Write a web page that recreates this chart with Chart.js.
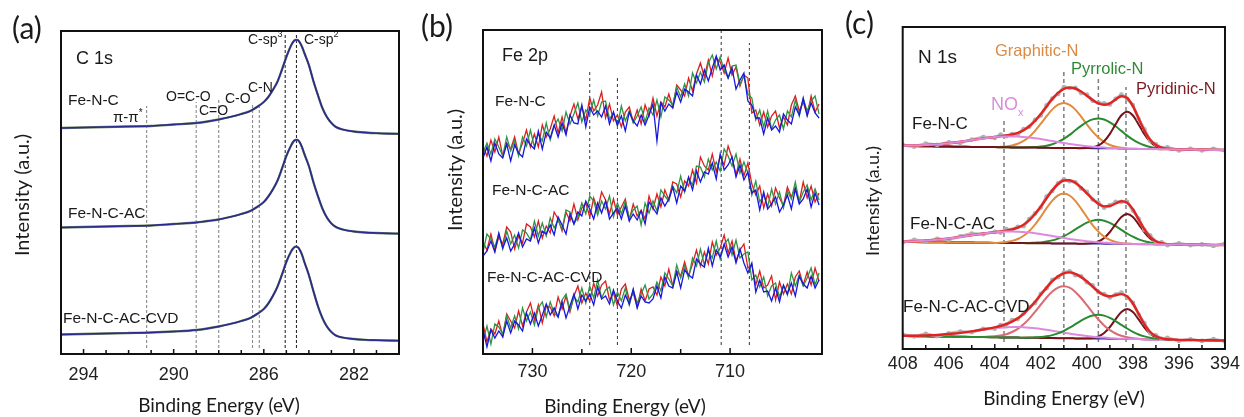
<!DOCTYPE html>
<html>
<head>
<meta charset="utf-8">
<script src="https://cdn.jsdelivr.net/npm/chart.js@4.4.1/dist/chart.umd.min.js"></script>
<style>
  html, body { margin: 0; padding: 0; background: #fff; }
  #wrap { position: relative; width: 1244px; height: 417px; overflow: hidden; background: #fff; }
  #wrap canvas { position: absolute; top: 0; }
</style>
</head>
<body>
<div id="wrap">
  <canvas id="panelA" width="410" height="417" style="left:0px;width:410px;height:417px"></canvas>
  <canvas id="panelB" width="410" height="417" style="left:420px;width:410px;height:417px"></canvas>
  <canvas id="panelC" width="414" height="417" style="left:830px;width:414px;height:417px"></canvas>
</div>
<script>
// ---------------- (a) C 1s ----------------
const c1sEnergy = [295.0, 294.0, 293.0, 292.0, 291.0, 290.0, 289.0, 288.5, 288.0, 287.5,
  287.0, 286.6, 286.3, 286.0, 285.8, 285.6, 285.4, 285.2, 285.0, 284.8,
  284.7, 284.6, 284.5, 284.4, 284.3, 284.2, 284.0, 283.8, 283.6, 283.4,
  283.2, 283.0, 282.8, 282.5, 282.0, 281.5, 281.0, 280.5, 280.0];
const c1sFeNC = [226, 226.5, 227, 227.5, 228, 229.5, 231, 232.5, 234.5, 237,
  240, 243, 247, 252, 257, 264, 272, 284, 297, 308,
  312, 314, 314, 311.5, 307, 301, 289, 273, 259, 246,
  237, 231, 227, 224.5, 222.5, 221.5, 220.8, 220.4, 220.2];
const c1sFeNCAC = [126.5, 127, 127.5, 128, 128.5, 130, 131.5, 133, 134.5, 137,
  140, 143, 147, 152, 157.5, 164.5, 173, 185, 198, 208,
  212, 214, 214, 211.5, 206.5, 200, 188, 172, 158, 145.5,
  136.5, 130.5, 127, 124.5, 122.5, 121.5, 121, 120.6, 120.4];
const c1sFeNCACCVD = [19.5, 20, 20.5, 21, 21.5, 22.5, 24, 25.5, 27.5, 30,
  33, 36, 40, 45, 50.5, 58, 67, 79, 92, 102,
  105.5, 107.3, 107, 104, 99, 92, 79, 63, 48, 36,
  27.5, 22, 18.5, 16.5, 15, 14.2, 13.8, 13.5, 13.3];
const c1sMarkerEnergy = [291.2, 289.0, 288.0, 286.5, 286.2, 285.05, 284.55];
const c1sMarkerTop = [248, 252, 254, 249, 249, 321, 321];
const c1sTickLabels = [294, 290, 286, 282];

// ---------------- (b) Fe 2p ----------------
const fe2pEnergy = [735.0, 734.6, 734.2, 733.8, 733.4, 733.0, 732.6, 732.2, 731.8, 731.4,
  731.0, 730.6, 730.2, 729.8, 729.4, 729.0, 728.6, 728.2, 727.8, 727.4,
  727.0, 726.6, 726.2, 725.8, 725.4, 725.0, 724.6, 724.2, 723.8, 723.4,
  723.0, 722.6, 722.2, 721.8, 721.4, 721.0, 720.6, 720.2, 719.8, 719.4,
  719.0, 718.6, 718.2, 717.8, 717.4, 717.0, 716.6, 716.2, 715.8, 715.4,
  715.0, 714.6, 714.2, 713.8, 713.4, 713.0, 712.6, 712.2, 711.8, 711.4,
  711.0, 710.6, 710.2, 709.8, 709.4, 709.0, 708.6, 708.2, 707.8, 707.4,
  707.0, 706.6, 706.2, 705.8, 705.4, 705.0, 704.6, 704.2, 703.8, 703.4,
  703.0, 702.6, 702.2, 701.8, 701.4, 701.0];
const fe2pFeNC_1 = [208,198,214,202,217,198,211,205,217,200, 211,224,207,220,207,229,217,225,238,221,
  237,221,238,250,235,247,234,256,243,249, 262,236,250,233,239,227,242,247,232,244,
  230,249,238,256,238,252,247,260,247,269, 264,258,276,263,280,291,277,294,278,296,
  292,281,296,279,287,268,279,276,241,244, 229,242,227,238,243,226,237,229,249,258,
  243,252,239,258,242,250];
const fe2pFeNC_2 = [201,211,200,215,207,198,217,203,213,198, 217,208,224,207,220,213,231,214,228,235,
  223,242,230,240,251,232,244,240,254,238, 252,253,235,241,228,248,233,243,231,238,
  247,232,246,239,254,237,257,254,249,267, 257,270,258,281,271,282,272,291,299,285,
  297,284,276,288,289,270,278,260,256,234, 244,227,243,225,234,239,225,243,237,254,
  238,255,243,253,258,240];
const fe2pFeNC_3 = [196,207,193,211,200,196,210,193,209,201, 197,215,209,205,223,205,222,216,229,217,
  231,219,239,231,230,249,227,247,239,243, 237,248,230,242,229,238,223,242,233,228,
  239,229,239,250,213,251,243,250,246,262, 252,265,262,258,279,270,284,273,286,298,
  284,289,276,286,265,274,281,253,249,236, 236,220,236,224,228,222,240,234,230,247,
  239,256,238,251,241,236];
const fe2pFeNCAC_1 = [112,104,120,103,117,110,127,122,105,118, 111,130,127,117,133,116,128,121,142,135,
  123,142,133,150,134,146,151,137,156,144, 162,154,140,155,139,147,155,134,150,138,
  144,135,158,145,160,147,164,154,172,170, 157,173,168,184,171,197,188,184,200,182,
  198,189,208,196,179,195,178,191,170,159, 168,146,160,148,166,156,148,167,157,166,
  152,172,156,168,152,161];
const fe2pFeNCAC_2 = [102,120,115,107,120,105,123,110,119,106, 124,121,114,133,118,131,118,136,126,134,
  125,144,142,130,137,151,140,158,153,139, 153,145,158,137,151,140,153,136,144,148,
  129,151,141,153,143,164,158,153,168,161, 178,162,176,169,188,187,177,195,184,192,
  183,205,198,188,200,181,192,181,159,173, 152,159,147,165,150,162,146,163,155,172,
  152,162,169,154,165,154];
const fe2pFeNCAC_3 = [98,103,113,102,121,106,116,103,110,121, 107,115,113,126,111,123,120,129,119,137,
  129,120,140,130,142,138,153,145,135,151, 141,153,135,141,146,135,148,133,140,134,
  143,130,152,146,140,156,148,155,167,151, 168,163,177,164,183,172,182,180,191,175,
  200,184,189,197,177,189,174,182,161,164, 144,162,145,150,157,142,149,159,145,165,
  150,155,165,147,161,149];
const fe2pFeNCACCVD_1 = [30,12,25,20,33,18,40,33,26,43, 28,42,51,34,49,31,48,47,38,57,
  45,58,42,58,68,51,61,53,71,58, 69,73,54,61,48,65,70,54,61,47,
  65,53,65,67,59,77,68,85,68,83, 78,92,78,90,104,88,102,90,112,99,
  106,119,101,113,93,104,110,86,89,69, 83,66,69,78,54,72,60,70,60,77,
  83,69,82,69,86,73];
const fe2pFeNCACCVD_2 = [13,28,10,30,27,20,38,26,38,25, 46,33,42,29,46,52,37,52,41,37,
  54,60,44,57,52,66,51,68,56,74, 56,64,67,49,62,53,66,49,64,51,
  60,69,55,60,72,63,81,75,68,89, 76,88,76,96,88,105,89,103,96,113,
  95,109,115,99,114,96,100,102,74,79, 67,77,58,68,71,57,68,59,81,68,
  79,68,76,86,69,81];
const fe2pFeNCACCVD_3 = [24,7,24,16,23,17,33,21,33,29, 23,41,30,41,28,39,50,39,46,37,
  52,36,48,60,45,59,53,60,49,67, 55,58,50,64,53,46,59,50,65,46,
  58,52,51,55,68,56,77,68,66,82, 66,84,79,76,95,90,87,106,88,104,
  97,110,97,107,91,105,91,81,91,62, 74,62,63,53,66,52,69,60,71,58,
  78,70,66,78,66,74];
const fe2pMarkerEnergy = [724.2, 721.4, 710.9, 708.05];
const fe2pMarkerTop = [282, 276, 323, 311];
const fe2pTickLabels = [730, 720, 710];

// ---------------- (c) N 1s ----------------
const n1sEnergy = [408, 407.5, 407, 406.5, 406, 405.5, 405, 404.5, 404, 403.75,
  403.5, 403.25, 403, 402.75, 402.5, 402.25, 402, 401.75, 401.5, 401.25,
  401, 400.75, 400.5, 400.25, 400, 399.75, 399.5, 399.25, 399, 398.75,
  398.5, 398.25, 398, 397.75, 397.5, 397.25, 397, 396.75, 396.5, 396,
  395.5, 395, 394.5, 394];

const n1sFeNC_raw = [204.1,202.3,205.4,204.1,206.8,205.9,209.4,211.9,211.1,214.4, 212.8,214.9,214.8,219.9,222.2,229.1,233.5,243.6,250.4,255.1,
  262.0,261.0,261.2,255.9,254.5,248.2,246.2,245.6,244.6,250.1, 254.4,250.1,244.0,230.0,219.7,208.0,204.7,200.9,201.7,198.5, 200.3,198.6,200.3,198.6];
const n1sFeNC_fit = [203.3,203.5,203.9,204.7,205.7,207.3,208.9,210.6,212.0,212.8, 213.5,214.5,216.1,218.7,222.7,228.2,235.0,242.6,250.1,256.2,
  260.2,261.4,260.5,257.5,253.3,249.0,245.6,244.2,245.6,249.6, 252.7,251.0,242.9,230.6,218.4,209.2,203.9,201.4,200.2,199.6, 199.4,199.3,199.1,199.0];
const n1sFeNC_bg = [203.0,202.9,202.7,202.6,202.4,202.3,202.1,202.0,201.9,201.8, 201.7,201.6,201.6,201.5,201.4,201.4,201.3,201.2,201.1,201.1,
  201.0,200.9,200.9,200.8,200.7,200.6,200.6,200.5,200.4,200.4, 200.3,200.2,200.1,200.1,200.0,199.9,199.9,199.8,199.7,199.6, 199.4,199.3,199.1,199.0];
const n1sFeNC_nox = [203.3,203.5,203.9,204.7,205.7,207.3,208.9,210.6,212.0,212.4, 212.6,212.6,212.5,212.1,211.5,210.8,209.9,208.9,207.9,207.0,
  206.0,205.0,204.2,203.5,202.8,202.2,201.8,201.4,201.0,200.9, 200.6,200.4,200.2,200.1,200.0,199.9,199.9,199.8,199.7,199.6, 199.4,199.3,199.1,199.0];
const n1sFeNC_graphitic = [203.0,202.9,202.7,202.6,202.4,202.3,202.1,202.0,201.9,202.2, 202.6,203.5,205.2,208.1,212.3,218.2,225.3,232.8,239.6,244.3,
  246.0,244.1,239.4,232.4,224.7,217.4,211.5,207.1,204.0,202.3, 201.2,200.6,200.3,200.1,200.0,199.9,199.9,199.8,199.7,199.6, 199.4,199.3,199.1,199.0];
const n1sFeNC_pyrrolic = [203.0,202.9,202.7,202.6,202.4,202.3,202.1,202.0,201.9,201.8, 201.7,201.6,201.6,201.5,201.7,202.0,202.4,203.3,204.8,207.1,
  210.2,214.1,218.7,223.1,227.0,229.6,230.6,229.5,226.7,222.7, 218.1,213.4,209.3,206.1,203.7,202.0,201.0,200.4,200.0,199.6, 199.4,199.3,199.1,199.0];
const n1sFeNC_pyridinic = [203.0,202.9,202.7,202.6,202.4,202.3,202.1,202.0,201.9,201.8, 201.7,201.6,201.6,201.5,201.4,201.4,201.3,201.2,201.1,201.1,
  201.0,200.9,200.9,200.8,200.9,201.6,203.5,207.7,215.1,224.9, 233.7,237.2,233.5,224.6,214.7,207.1,202.8,200.8,199.9,199.6, 199.4,199.3,199.1,199.0];

const n1sFeNCAC_raw = [106.6,109.2,107.8,110.3,109.2,112.8,115.4,114.7,117.1,116.4, 119.9,119.3,122.3,122.7,130.0,135.6,141.5,152.5,158.1,165.8,
  169.8,167.7,166.8,160.6,157.1,149.5,146.2,141.3,143.8,147.1, 147.2,147.3,138.4,130.3,119.2,113.4,107.0,106.7,103.8,105.7, 103.7,104.6,103.1,105.5];
const n1sFeNCAC_fit = [107.5,107.8,108.3,109.2,110.5,112.1,113.8,115.5,116.7,117.6, 118.4,119.6,121.4,124.3,128.8,135.0,142.5,150.8,158.8,165.0,
  168.5,168.8,166.3,161.5,155.7,149.9,145.2,142.6,143.0,145.5, 147.8,146.2,139.8,129.6,119.7,112.2,107.8,105.8,104.9,104.4, 104.3,104.2,104.1,104.0];
const n1sFeNCAC_bg = [107.0,106.9,106.8,106.7,106.6,106.5,106.4,106.3,106.1,106.1, 106.0,106.0,105.9,105.9,105.8,105.8,105.7,105.7,105.6,105.6,
  105.5,105.4,105.4,105.3,105.3,105.2,105.2,105.1,105.1,105.0, 105.0,104.9,104.9,104.8,104.8,104.7,104.6,104.6,104.5,104.4, 104.3,104.2,104.1,104.0];
const n1sFeNCAC_nox = [107.5,107.8,108.3,109.2,110.5,112.1,113.8,115.5,116.7,117.2, 117.4,117.5,117.3,117.0,116.4,115.8,114.9,114.0,113.0,112.1,
  111.1,110.1,109.3,108.5,107.8,107.2,106.7,106.3,106.0,105.6, 105.5,105.2,105.1,104.9,104.8,104.7,104.6,104.6,104.5,104.4, 104.3,104.2,104.1,104.0];
const n1sFeNCAC_graphitic = [107.0,106.9,106.8,106.7,106.6,106.5,106.4,106.3,106.1,106.5, 107.0,108.1,110.0,113.2,118.0,124.5,132.4,140.8,148.4,153.7,
  155.5,153.5,148.2,140.4,132.0,123.9,117.4,112.4,109.2,107.1, 106.0,105.3,105.1,104.8,104.8,104.7,104.6,104.6,104.5,104.4, 104.3,104.2,104.1,104.0];
const n1sFeNCAC_pyrrolic = [107.0,106.9,106.8,106.7,106.6,106.5,106.4,106.3,106.1,106.1, 106.0,106.0,105.9,105.9,106.0,106.3,106.6,107.4,108.6,110.4,
  112.9,116.0,119.6,123.2,126.3,128.4,129.2,128.3,126.1,122.9, 119.2,115.5,112.3,109.6,107.8,106.4,105.5,105.1,104.7,104.4, 104.3,104.2,104.1,104.0];
const n1sFeNCAC_pyridinic = [107.0,106.9,106.8,106.7,106.6,106.5,106.4,106.3,106.1,106.1, 106.0,106.0,105.9,105.9,105.8,105.8,105.7,105.7,105.6,105.6,
  105.5,105.4,105.4,105.3,105.5,106.0,107.5,110.9,117.0,124.9, 132.1,134.9,132.0,124.7,116.7,110.5,106.9,105.4,104.7,104.4, 104.3,104.2,104.1,104.0];

const n1sFeNCACCVD_raw = [14.4,12.5,15.1,12.9,15.6,17.4,16.7,20.3,20.3,24.0, 24.4,29.0,29.9,35.5,41.8,46.1,55.3,60.8,69.2,71.7,
  76.4,77.8,73.7,72.6,66.8,63.6,56.9,54.9,51.5,54.5, 56.4,51.7,46.3,34.5,25.9,15.7,13.6,10.1,11.1,8.0, 9.8,8.1,10.0,7.6];
const n1sFeNCACCVD_fit = [13.2,13.2,13.6,14.0,15.0,16.1,17.6,19.5,21.7,23.0, 24.9,27.4,30.7,35.1,40.7,47.3,54.4,61.4,67.8,72.7,
  75.7,76.6,75.2,72.1,67.6,62.3,57.3,53.8,52.7,53.9, 54.9,52.6,45.5,35.1,24.7,17.0,12.7,10.6,9.7,9.1, 9.0,8.8,8.7,8.5];
const n1sFeNCACCVD_bg = [13.0,12.8,12.7,12.5,12.4,12.2,12.0,11.9,11.7,11.6, 11.5,11.5,11.4,11.3,11.2,11.2,11.1,11.0,10.9,10.8,
  10.7,10.7,10.6,10.5,10.4,10.3,10.3,10.2,10.1,10.0, 9.9,9.9,9.8,9.7,9.6,9.5,9.5,9.4,9.3,9.1, 9.0,8.8,8.7,8.5];
const n1sFeNCACCVD_nox = [13.2,13.2,13.6,14.0,15.0,16.1,17.6,19.3,20.7,21.2, 21.6,21.9,21.9,21.7,21.3,20.8,20.1,19.2,18.3,17.3,
  16.3,15.4,14.5,13.7,13.0,12.3,11.8,11.4,11.0,10.6, 10.3,10.2,10.0,9.9,9.6,9.5,9.5,9.4,9.3,9.1, 9.0,8.8,8.7,8.5];
const n1sFeNCACCVD_graphitic = [13.0,12.8,12.7,12.5,12.4,12.2,12.0,12.1,12.7,13.4, 14.8,17.0,20.2,24.7,30.4,37.2,44.5,51.5,57.4,61.4,
  62.7,61.3,57.1,51.0,43.8,36.3,29.5,23.6,18.9,15.5, 13.2,11.7,10.8,10.2,9.8,9.5,9.5,9.4,9.3,9.1, 9.0,8.8,8.7,8.5];
const n1sFeNCACCVD_pyrrolic = [13.0,12.8,12.7,12.5,12.4,12.2,12.0,11.9,11.7,11.6, 11.5,11.5,11.4,11.3,11.4,11.7,12.0,12.7,13.9,15.6,
  18.1,21.3,24.8,28.4,31.4,33.5,34.3,33.4,31.1,27.9, 24.1,20.5,17.2,14.5,12.6,11.2,10.4,9.9,9.5,9.1, 9.0,8.8,8.7,8.5];
const n1sFeNCACCVD_pyridinic = [13.0,12.8,12.7,12.5,12.4,12.2,12.0,11.9,11.7,11.6, 11.5,11.5,11.4,11.3,11.2,11.2,11.1,11.0,10.9,10.8,
  10.7,10.7,10.6,10.5,10.6,11.1,12.6,16.0,22.0,29.9, 37.0,39.9,36.9,29.6,21.5,15.3,11.8,10.2,9.5,9.1, 9.0,8.8,8.7,8.5];

const n1sMarkerEnergy = [403.6, 401.0, 399.5, 398.3];
const n1sMarkerTop = [229, 277, 271, 262];
const n1sTickLabels = [408, 406, 404, 402, 400, 398, 396, 394];

// ---------------- drawing helpers ----------------
const SANS = "'Liberation Sans', Arial, sans-serif";
const TITLE = "Lato, 'Open Sans', sans-serif";
const font = (size, fam) => size + 'px ' + (fam || SANS);

Chart.defaults.font.family = SANS;
Chart.defaults.color = '#222';

const pts = (xs, ys) => xs.map((x, i) => ({ x: x, y: ys[i] }));

function curve(xs, ys, color, width, extra) {
  return Object.assign({
    data: pts(xs, ys), borderColor: color, borderWidth: width,
    pointRadius: 0, fill: false, tension: 0
  }, extra || {});
}

function marker(x, y0, y1, color, width, dash) {
  return {
    data: [{ x: x, y: y0 }, { x: x, y: y1 }],
    borderColor: color, borderWidth: width, borderDash: dash,
    pointRadius: 0, fill: false
  };
}

function drawText(ctx, item, ox) {
  ctx.save();
  ctx.textBaseline = 'middle';
  ctx.textAlign = 'left';
  let total = 0;
  item.parts.forEach(p => { ctx.font = p.font; p.w = ctx.measureText(p.t).width; total += p.w; });
  ctx.translate(item.x - ox, item.y);
  if (item.rotate) ctx.rotate(item.rotate);
  let cx = item.align === 'center' ? -total / 2 : 0;
  item.parts.forEach(p => {
    ctx.font = p.font;
    ctx.fillStyle = p.color || item.color || '#1a1a1a';
    ctx.fillText(p.t, cx, p.dy || 0);
    cx += p.w;
  });
  ctx.restore();
}

// frame, inward tick marks and annotation text for one panel
function panelDecor(cfg) {
  return {
    id: 'panelDecor',
    afterDraw(chart) {
      const ctx = chart.ctx, a = chart.chartArea, xs = chart.scales.x;
      ctx.save();
      ctx.strokeStyle = '#111';
      ctx.lineWidth = 1.5;
      xs.ticks.forEach(t => {
        const q = t.value / cfg.minorStep;
        if (Math.abs(q - Math.round(q)) > 1e-6) return;
        const px = xs.getPixelForValue(t.value);
        if (px <= a.left + 1.5 || px >= a.right - 1.5) return;
        const len = cfg.labelled.includes(t.value) ? cfg.majorLen : cfg.minorLen;
        ctx.beginPath();
        ctx.moveTo(px, a.bottom);
        ctx.lineTo(px, a.bottom - len);
        ctx.stroke();
      });
      ctx.lineWidth = cfg.frameWidth;
      ctx.strokeRect(a.left, a.top, a.right - a.left, a.bottom - a.top);
      cfg.texts.forEach(t => drawText(ctx, t, cfg.offsetX));
      ctx.restore();
    }
  };
}

function makePanel(id, o) {
  return new Chart(document.getElementById(id), {
    type: 'line',
    data: { datasets: o.datasets.slice().reverse() },
    options: {
      responsive: false,
      animation: false,
      devicePixelRatio: 1,
      layout: { padding: o.padding },
      plugins: { legend: { display: false }, tooltip: { enabled: false } },
      scales: {
        x: {
          type: 'linear', reverse: true, min: o.xMin, max: o.xMax,
          afterFit: s => { s.height = o.axisHeight; },
          grid: { display: false, drawTicks: false },
          border: { display: false },
          ticks: {
            stepSize: o.step, autoSkip: false, maxRotation: 0, minRotation: 0,
            padding: o.tickPad, color: '#222', font: { size: o.tickSize, family: SANS },
            callback: v => (o.labelled.includes(v) ? String(v) : '')
          }
        },
        y: { display: false, min: 0, max: o.yMax }
      }
    },
    plugins: [panelDecor({
      offsetX: o.offsetX, texts: o.texts, labelled: o.labelled,
      minorStep: o.step, majorLen: o.majorLen, minorLen: o.minorLen, frameWidth: o.frameWidth
    })]
  });
}

// ---------------- panel (a) ----------------
const dsA = [];
c1sMarkerEnergy.forEach((e, i) => dsA.push(marker(e, 6, c1sMarkerTop[i], i < 5 ? '#8a8a8a' : '#2a2a2a', 1.1, [3, 2])));
[c1sFeNC, c1sFeNCAC, c1sFeNCACCVD].forEach(s => {
  dsA.push(curve(c1sEnergy, s, '#6d8262', 2.3, { cubicInterpolationMode: 'monotone' }));
  dsA.push(curve(c1sEnergy, s, '#2a2a8e', 1.6, { cubicInterpolationMode: 'monotone' }));
});

makePanel('panelA', {
  offsetX: 0, datasets: dsA,
  padding: { left: 61, right: 11, top: 31, bottom: 0 },
  axisHeight: 63, xMin: 280, xMax: 295, step: 1, yMax: 323,
  tickPad: 10, tickSize: 18, labelled: c1sTickLabels,
  majorLen: 5, minorLen: 4, frameWidth: 2,
  texts: [
    { x: 12, y: 29, parts: [{ t: '(a)', font: font(30, TITLE) }] },
    { x: 76, y: 59, parts: [{ t: 'C 1s', font: font(18) }] },
    { x: 68, y: 101, parts: [{ t: 'Fe-N-C', font: font(15.5) }] },
    { x: 113, y: 118, parts: [{ t: 'π-π', font: font(15) }, { t: '*', font: font(10), dy: -5 }] },
    { x: 166, y: 97, parts: [{ t: 'O=C-O', font: font(14) }] },
    { x: 199, y: 111, parts: [{ t: 'C=O', font: font(14) }] },
    { x: 225, y: 99, parts: [{ t: 'C-O', font: font(14) }] },
    { x: 248, y: 88, parts: [{ t: 'C-N', font: font(14) }] },
    { x: 248, y: 40, parts: [{ t: 'C-sp', font: font(14) }, { t: '3', font: font(9), dy: -5 }] },
    { x: 304, y: 40, parts: [{ t: 'C-sp', font: font(14) }, { t: '2', font: font(9), dy: -5 }] },
    { x: 68, y: 214, parts: [{ t: 'Fe-N-C-AC', font: font(15.5) }] },
    { x: 63, y: 319, parts: [{ t: 'Fe-N-C-AC-CVD', font: font(15.5) }] },
    { x: 219, y: 406, align: 'center', parts: [{ t: 'Binding Energy (eV)', font: font(19, TITLE) }] },
    { x: 23, y: 195, align: 'center', rotate: -Math.PI / 2, parts: [{ t: 'Intensity (a.u.)', font: font(20, TITLE) }] }
  ]
});

// ---------------- panel (b) ----------------
const dsB = [];
fe2pMarkerEnergy.forEach((e, i) => dsB.push(marker(e, 9, fe2pMarkerTop[i], '#333', 1, [3, 3])));
[[fe2pFeNC_1, fe2pFeNC_2, fe2pFeNC_3],
 [fe2pFeNCAC_1, fe2pFeNCAC_2, fe2pFeNCAC_3],
 [fe2pFeNCACCVD_1, fe2pFeNCACCVD_2, fe2pFeNCACCVD_3]].forEach(group => {
  dsB.push(curve(fe2pEnergy, group[0], '#dc2020', 1.3));
  dsB.push(curve(fe2pEnergy, group[1], '#2f9446', 1.3));
  dsB.push(curve(fe2pEnergy, group[2], '#1818dc', 1.3));
});

makePanel('panelB', {
  offsetX: 420, datasets: dsB,
  padding: { left: 63, right: 8, top: 30, bottom: 0 },
  axisHeight: 63, xMin: 700.7, xMax: 735, step: 5, yMax: 324,
  tickPad: 7, tickSize: 18, labelled: fe2pTickLabels,
  majorLen: 6, minorLen: 5, frameWidth: 2,
  texts: [
    { x: 421, y: 27, parts: [{ t: '(b)', font: font(30, TITLE) }] },
    { x: 502, y: 56, parts: [{ t: 'Fe 2p', font: font(18) }] },
    { x: 495, y: 102, parts: [{ t: 'Fe-N-C', font: font(15.5) }] },
    { x: 492, y: 191, parts: [{ t: 'Fe-N-C-AC', font: font(15.5) }] },
    { x: 487, y: 278, parts: [{ t: 'Fe-N-C-AC-CVD', font: font(15.5) }] },
    { x: 625, y: 407, align: 'center', parts: [{ t: 'Binding Energy (eV)', font: font(19, TITLE) }] },
    { x: 456, y: 170, align: 'center', rotate: -Math.PI / 2, parts: [{ t: 'Intensity (a.u.)', font: font(20, TITLE) }] }
  ]
});

// ---------------- panel (c) ----------------
const C_BG = '#2b2b9c', C_FIT = '#e32222', C_RAW = '#bdbdbd', C_NOX = '#dd8ade';
const C_GRAPH = '#e08b3e', C_GRAPH_CVD = '#d96b74', C_PYRRO = '#2a8a2e', C_PYRID = '#741418';
const smooth = { cubicInterpolationMode: 'monotone' };
const rawStyle = { pointRadius: 2.3, pointBackgroundColor: '#b0b0b0', pointBorderWidth: 0 };

const dsC = [];
n1sMarkerEnergy.forEach((e, i) => dsC.push(marker(e, 7, n1sMarkerTop[i], '#7d7d7d', 1.5, [4, 3])));
// Fe-N-C
dsC.push(curve(n1sEnergy, n1sFeNC_bg, C_BG, 1.5, smooth));
dsC.push(curve(n1sEnergy, n1sFeNC_graphitic, C_GRAPH, 2, smooth));
dsC.push(curve(n1sEnergy, n1sFeNC_pyrrolic, C_PYRRO, 2, smooth));
dsC.push(curve(n1sEnergy, n1sFeNC_pyridinic, C_PYRID, 2, smooth));
dsC.push(curve(n1sEnergy, n1sFeNC_raw, C_RAW, 3, rawStyle));
dsC.push(curve(n1sEnergy, n1sFeNC_fit, C_FIT, 2.4, smooth));
dsC.push(curve(n1sEnergy, n1sFeNC_nox, C_NOX, 2, smooth));
// Fe-N-C-AC
dsC.push(curve(n1sEnergy, n1sFeNCAC_bg, C_BG, 1.5, smooth));
dsC.push(curve(n1sEnergy, n1sFeNCAC_pyrrolic, C_PYRRO, 2, smooth));
dsC.push(curve(n1sEnergy, n1sFeNCAC_pyridinic, C_PYRID, 2, smooth));
dsC.push(curve(n1sEnergy, n1sFeNCAC_graphitic, C_GRAPH, 2, smooth));
dsC.push(curve(n1sEnergy, n1sFeNCAC_raw, C_RAW, 3, rawStyle));
dsC.push(curve(n1sEnergy, n1sFeNCAC_fit, C_FIT, 2.4, smooth));
dsC.push(curve(n1sEnergy, n1sFeNCAC_nox, C_NOX, 2, smooth));
// Fe-N-C-AC-CVD
dsC.push(curve(n1sEnergy, n1sFeNCACCVD_bg, C_BG, 1.5, smooth));
dsC.push(curve(n1sEnergy, n1sFeNCACCVD_pyridinic, C_PYRID, 2, smooth));
dsC.push(curve(n1sEnergy, n1sFeNCACCVD_graphitic, C_GRAPH_CVD, 2, smooth));
dsC.push(curve(n1sEnergy, n1sFeNCACCVD_nox, C_NOX, 2, smooth));
dsC.push(curve(n1sEnergy, n1sFeNCACCVD_pyrrolic, C_PYRRO, 2, smooth));
dsC.push(curve(n1sEnergy, n1sFeNCACCVD_raw, C_RAW, 3, rawStyle));
dsC.push(curve(n1sEnergy, n1sFeNCACCVD_fit, C_FIT, 2.4, smooth));

makePanel('panelC', {
  offsetX: 830, datasets: dsC,
  padding: { left: 72.7, right: 17, top: 27, bottom: 0 },
  axisHeight: 68, xMin: 394, xMax: 408, step: 1, yMax: 322,
  tickPad: 4, tickSize: 18, labelled: n1sTickLabels,
  majorLen: 5, minorLen: 4, frameWidth: 2,
  texts: [
    { x: 845, y: 24, parts: [{ t: '(c)', font: font(30, TITLE) }] },
    { x: 918, y: 58, parts: [{ t: 'N 1s', font: font(19) }] },
    { x: 995, y: 51, color: '#d98a46', parts: [{ t: 'Graphitic-N', font: font(16.5) }] },
    { x: 1071, y: 69, color: '#2f8a35', parts: [{ t: 'Pyrrolic-N', font: font(16.5) }] },
    { x: 1136, y: 89, color: '#7a1d22', parts: [{ t: 'Pyridinic-N', font: font(16.5) }] },
    { x: 991, y: 105, color: '#d98fd6', parts: [{ t: 'NO', font: font(18) }, { t: 'x', font: font(11), dy: 8 }] },
    { x: 912, y: 124, parts: [{ t: 'Fe-N-C', font: font(17) }] },
    { x: 910, y: 224, parts: [{ t: 'Fe-N-C-AC', font: font(17) }] },
    { x: 903, y: 307, parts: [{ t: 'Fe-N-C-AC-CVD', font: font(17) }] },
    { x: 1064, y: 399, align: 'center', parts: [{ t: 'Binding Energy (eV)', font: font(19, TITLE) }] },
    { x: 873, y: 201, align: 'center', rotate: -Math.PI / 2, parts: [{ t: 'Intensity (a.u.)', font: font(18, TITLE) }] }
  ]
});
</script>
</body>
</html>
